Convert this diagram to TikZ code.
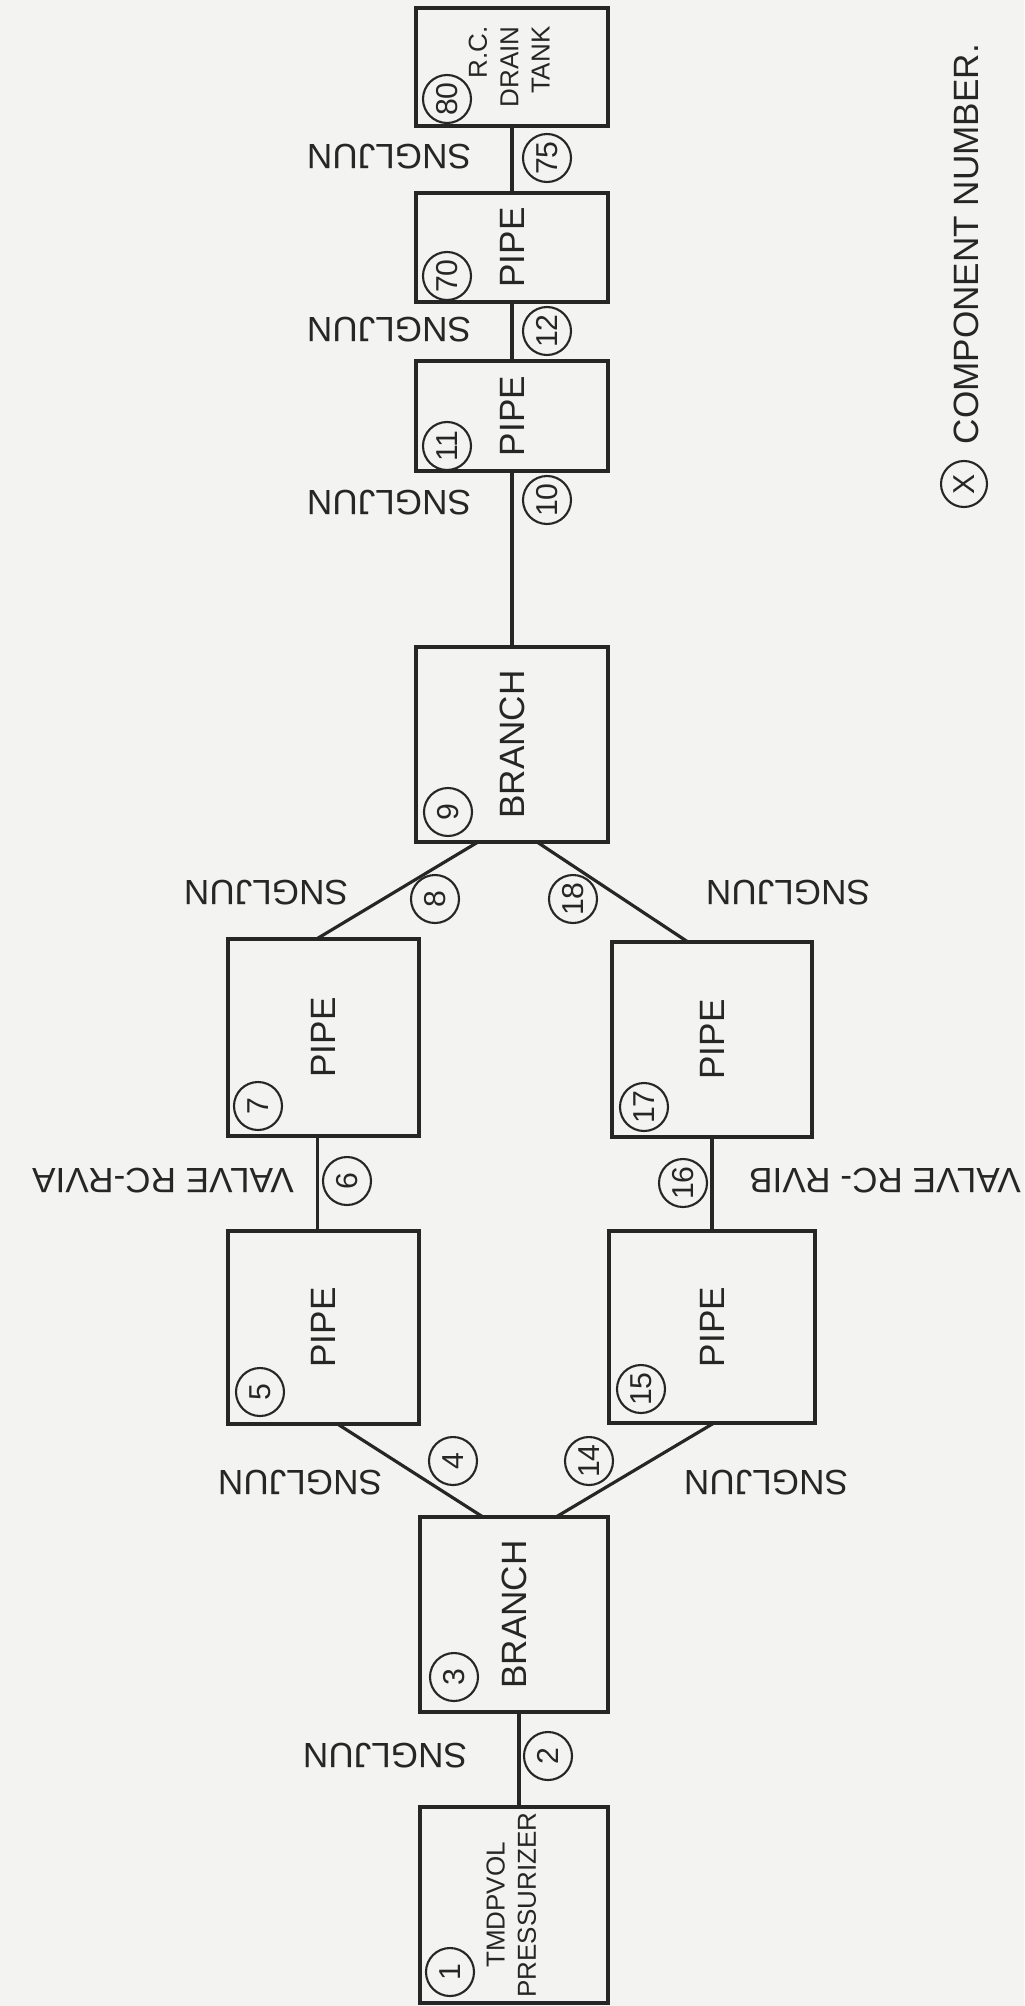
\documentclass[tikz,border=0pt]{standalone}
\usepackage{fontspec}
\setmainfont{Liberation Sans}
\usepackage{graphicx}
\usetikzlibrary{positioning,calc}
\definecolor{ink}{RGB}{38,38,38}
\definecolor{paper}{RGB}{243,243,241}
\newcommand{\uptext}[1]{\rotatebox{90}{#1}}
\newcommand{\uplines}[2][c]{\rotatebox{90}{\fontsize{7.4}{8.9}\selectfont\begin{tabular}{@{}#1@{}}#2\end{tabular}}}
\tikzset{
    compbox/.style={rectangle,draw=ink,line width=1.1pt,inner sep=0pt,outer sep=0pt,minimum width=1.92cm,font=\fontsize{10}{12}\selectfont},
    compnum/.style={circle,draw=ink,line width=0.6pt,minimum size=0.48cm,inner sep=0pt,rotate=90,font=\fontsize{8.6}{9}\selectfont},
    junline/.style={draw=ink,line width=0.9pt},
    junlabel/.style={rotate=180,inner sep=0pt,font=\fontsize{10}{12}\selectfont},
    keytext/.style={rotate=90,inner sep=0pt,font=\fontsize{10}{12}\selectfont}
}
\begin{document}
\begin{tikzpicture}[text=ink]
    \fill[paper] (0,0) rectangle (10.24,-20.06);
    \useasboundingbox (0,0) rectangle (10.24,-20.06);
    % main column
    \node[compbox,minimum height=1.18cm] (tank) at (5.12,-0.67) {\uplines[r]{R.C.\\DRAIN\\TANK}};
    \node[compbox,minimum height=1.09cm,below=0.67cm of tank] (pipe70) {\uptext{PIPE}};
    \node[compbox,minimum height=1.10cm,below=0.59cm of pipe70] (pipe11) {\uptext{PIPE}};
    \node[compbox,minimum height=1.95cm,below=1.76cm of pipe11] (branch9) {\uptext{BRANCH}};
    % the two legs
    \node[compbox,minimum width=1.91cm,minimum height=1.97cm,below left=0.97cm and -0.03cm of branch9] (pipe7) {\uptext{PIPE}};
    \node[compbox,minimum width=2.00cm,minimum height=1.95cm,below right=1.00cm and 0.04cm of branch9] (pipe17) {\uptext{PIPE}};
    \node[compbox,minimum width=1.91cm,minimum height=1.93cm,below=0.95cm of pipe7] (pipe5) {\uptext{PIPE}};
    \node[compbox,minimum width=2.06cm,minimum height=1.92cm,below=0.94cm of pipe17] (pipe15) {\uptext{PIPE}};
    \node[compbox,minimum width=1.88cm,minimum height=1.95cm,below right=0.93cm and 0.01cm of pipe5] (branch3) {\uptext{BRANCH}};
    \node[compbox,minimum width=1.88cm,minimum height=1.96cm,below=0.95cm of branch3] (pzr) {\uplines{TMDPVOL\\PRESSURIZER}};
    % component numbers
    \node[compnum] (n80) at ([shift={(0.31,0.27)}]tank.south west) {80};
    \node[compnum] (n70) at ([shift={(0.31,0.26)}]pipe70.south west) {70};
    \node[compnum] (n11) at ([shift={(0.31,0.25)}]pipe11.south west) {11};
    \node[compnum] (n9) at ([shift={(0.32,0.30)}]branch9.south west) {9};
    \node[compnum] (n7) at ([shift={(0.30,0.30)}]pipe7.south west) {7};
    \node[compnum] (n17) at ([shift={(0.32,0.30)}]pipe17.south west) {17};
    \node[compnum] (n5) at ([shift={(0.32,0.32)}]pipe5.south west) {5};
    \node[compnum] (n15) at ([shift={(0.32,0.34)}]pipe15.south west) {15};
    \node[compnum] (n3) at ([shift={(0.34,0.35)}]branch3.south west) {3};
    \node[compnum] (n1) at ([shift={(0.30,0.31)}]pzr.south west) {1};
    % junctions
    \draw[junline] (tank) -- (pipe70);
    \draw[junline] (pipe70) -- (pipe11);
    \draw[junline] (pipe11) -- (branch9);
    \draw[junline] ([shift={(0.62,0)}]branch9.south west) -- ([shift={(-0.07,0)}]pipe7.north);
    \draw[junline] ([shift={(-0.71,0)}]branch9.south east) -- ([shift={(-0.24,0)}]pipe17.north);
    \draw[junline] ([shift={(-0.06,0)}]pipe7.south) -- ([shift={(-0.06,0)}]pipe5.north);
    \draw[junline] (pipe17) -- (pipe15);
    \draw[junline] ([shift={(0.14,0)}]pipe5.south) -- ([shift={(-0.31,0)}]branch3.north);
    \draw[junline] ([shift={(0.42,0)}]branch3.north) -- ([shift={(0.02,0)}]pipe15.south);
    \draw[junline] ([shift={(0.05,0)}]branch3.south) -- ([shift={(0.05,0)}]pzr.north);
    \node[compnum] (n75) at (5.47,-1.58) {75};
    \node[compnum] (n12) at (5.47,-3.31) {12};
    \node[compnum] (n10) at (5.47,-5.00) {10};
    \node[compnum] (n8) at (4.35,-8.99) {8};
    \node[compnum] (n18) at (5.73,-8.99) {18};
    \node[compnum] (n6) at (3.47,-11.81) {6};
    \node[compnum] (n16) at (6.83,-11.83) {16};
    \node[compnum] (n4) at (4.53,-14.61) {4};
    \node[compnum] (n14) at (5.89,-14.61) {14};
    \node[compnum] (n2) at (5.48,-17.56) {2};
    \node[junlabel] (sj75) at (3.89,-1.57) {SNGLJUN};
    \node[junlabel] (sj12) at (3.89,-3.30) {SNGLJUN};
    \node[junlabel] (sj10) at (3.89,-5.03) {SNGLJUN};
    \node[junlabel] (sj8) at (2.66,-8.93) {SNGLJUN};
    \node[junlabel] (sj18) at (7.88,-8.93) {SNGLJUN};
    \node[junlabel] (sj4) at (3.00,-14.83) {SNGLJUN};
    \node[junlabel] (sj14) at (7.66,-14.83) {SNGLJUN};
    \node[junlabel] (sj2) at (3.85,-17.56) {SNGLJUN};
    \node[junlabel] (valvea) at (1.63,-11.81) {VALVE RC-RVIA};
    \node[junlabel] (valveb) at (8.85,-11.81) {VALVE RC- RVIB};
    % key
    \node[compnum,minimum size=0.46cm] (keyx) at (9.64,-4.84) {X};
    \node[keytext,anchor=west] (keylabel) at (9.66,-4.45) {COMPONENT NUMBER.};
\end{tikzpicture}
\end{document}
